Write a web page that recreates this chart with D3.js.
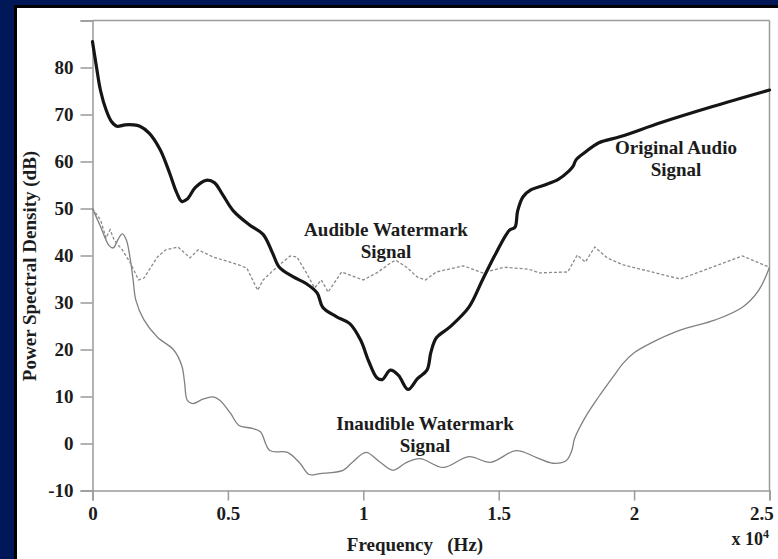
<!DOCTYPE html>
<html>
<head>
<meta charset="utf-8">
<script src="https://cdn.jsdelivr.net/npm/d3@7"></script>
<style>
  html, body { margin: 0; padding: 0; background: #001858; }
  svg { display: block; }
  text { font-family: "Liberation Serif", "Times New Roman", serif; font-weight: bold; fill: #1c1c1c; }
</style>
</head>
<body>
<svg id="chart" width="778" height="559"></svg>
<script>
// Frequency in units of 10^4 Hz, PSD in dB
const originalFreq = [0,0.015,0.03,0.05,0.07,0.09,0.12,0.15,0.175,0.21,0.25,0.285,0.31,0.33,0.35,0.38,0.42,0.45,0.48,0.52,0.58,0.63,0.665,0.69,0.74,0.79,0.83,0.85,0.9,0.95,0.99,1.02,1.05,1.07,1.1,1.13,1.165,1.2,1.235,1.25,1.27,1.32,1.39,1.44,1.49,1.54,1.56,1.57,1.59,1.62,1.67,1.72,1.76,1.775,1.785,1.82,1.87,1.95,2.1,2.29,2.5];
const originalPSD  = [85.5,80,75,71,68.5,67.5,67.8,67.8,67.5,66,62.5,57.5,53.5,51.5,52,54.5,56,55.5,53,49.5,46.5,44.5,40.5,37.5,35.5,34,32,29,27,25.5,22,17.5,14,13.6,15.6,14.5,11.5,13.8,15.6,19.5,22.5,24.8,29,34.8,40.5,45.4,46,49.5,52.5,54,55,56.2,58,59,60.3,62,64,65.3,68.3,71.7,75.2];

const audibleFreq = [0,0.03,0.05,0.065,0.08,0.11,0.14,0.17,0.19,0.24,0.27,0.316,0.36,0.39,0.445,0.54,0.57,0.61,0.63,0.68,0.73,0.755,0.79,0.82,0.845,0.87,0.92,1.0,1.05,1.1,1.12,1.16,1.2,1.23,1.27,1.37,1.44,1.52,1.61,1.65,1.755,1.79,1.82,1.855,1.9,1.96,2.17,2.4,2.5];
const audiblePSD  = [50,47.5,43.7,45.5,43.3,41.2,38.4,34.8,35.2,39.7,41.2,41.8,39.5,41.2,39.7,38,37.3,32.6,34.8,37.5,39.9,39.7,36.3,33.1,34.8,32.2,36.5,34.8,36.3,38.4,39,37.5,35.4,34.8,36.5,37.8,36.3,37.5,37.1,36.3,36.5,40.1,38.6,41.8,39.5,38,35,39.9,37.5];

const inaudibleFreq = [0,0.03,0.06,0.076,0.095,0.11,0.125,0.14,0.15,0.16,0.19,0.24,0.3,0.33,0.34,0.35,0.37,0.41,0.445,0.47,0.51,0.54,0.59,0.62,0.655,0.72,0.766,0.8,0.84,0.925,0.96,1.01,1.06,1.11,1.16,1.21,1.295,1.39,1.47,1.565,1.64,1.7,1.75,1.77,1.78,1.82,1.87,1.92,1.96,2.0,2.06,2.17,2.3,2.4,2.46,2.5];
const inaudiblePSD  = [50,46.1,42.2,41.6,43.5,44.6,43.3,39,34.8,30.5,26.3,22.6,19.9,16.5,13,9.2,8.5,9.5,9.9,9.2,6.4,3.9,3.2,2.5,-1.5,-1.9,-4.2,-6.6,-6.4,-5.7,-4,-1.9,-3.9,-5.7,-4,-3.2,-5.1,-2.8,-4,-1.5,-3,-4.2,-3.6,-1.5,1,5.6,10,14,17.1,19.3,21.3,24.1,26.3,29,32.6,37.5];

const xTicks = [0, 0.5, 1, 1.5, 2, 2.5];
const xTickLabels = ["0", "0.5", "1", "1.5", "2", "2.5"];
const yTicks = [-10, 0, 10, 20, 30, 40, 50, 60, 70, 80, 90];
const yTickLabels = ["-10", "0", "10", "20", "30", "40", "50", "60", "70", "80", ""];

const svg = d3.select("#chart");

// background panels
svg.append("rect").attr("x", 0).attr("y", 0).attr("width", 778).attr("height", 559).attr("fill", "#001858");
svg.append("rect").attr("x", 14).attr("y", 5).attr("width", 764).attr("height", 554).attr("fill", "#000000");
svg.append("rect").attr("x", 17).attr("y", 8).attr("width", 761).attr("height", 551).attr("fill", "#ffffff");

const x = d3.scaleLinear().domain([0, 2.5]).range([92.5, 769.5]);
const y = d3.scaleLinear().domain([-10, 90]).range([490.5, 20.5]);

const axisColor = "#9a9a9a";

// frame: top and right
svg.append("line").attr("x1", x(0)).attr("x2", x(2.5)).attr("y1", y(90)).attr("y2", y(90))
  .attr("stroke", axisColor).attr("stroke-width", 1.5);
svg.append("line").attr("x1", x(2.5)).attr("x2", x(2.5)).attr("y1", y(90)).attr("y2", y(-10))
  .attr("stroke", axisColor).attr("stroke-width", 1.5);

// y axis
const yAxis = d3.axisLeft(y).tickValues(yTicks).tickSize(12).tickPadding(7)
  .tickFormat((d, i) => yTickLabels[i]);
const gy = svg.append("g").attr("transform", `translate(${x(0)},0)`).call(yAxis);
gy.select(".domain").attr("stroke", axisColor).attr("stroke-width", 1.5);
gy.selectAll(".tick line").attr("stroke", axisColor).attr("stroke-width", 1.5);
gy.selectAll(".tick text").attr("font-family", "Liberation Serif, serif").attr("font-weight", "bold")
  .attr("font-size", 19).attr("fill", "#1c1c1c");

// x axis
const xAxis = d3.axisBottom(x).tickValues(xTicks).tickSize(10).tickPadding(6)
  .tickFormat((d, i) => xTickLabels[i]);
const gx = svg.append("g").attr("transform", `translate(0,${y(-10)})`).call(xAxis);
gx.select(".domain").attr("stroke", axisColor).attr("stroke-width", 1.5);
gx.selectAll(".tick line").attr("stroke", axisColor).attr("stroke-width", 1.5);
gx.selectAll(".tick text").attr("font-family", "Liberation Serif, serif").attr("font-weight", "bold")
  .attr("font-size", 19).attr("fill", "#1c1c1c");
gx.selectAll(".tick text").filter(d => d === 2.5).attr("text-anchor", "end").attr("dx", "0.2em");

// lines
const zip = (xs, ys) => xs.map((v, i) => ({ f: v, p: ys[i] }));
const smooth = d3.line().x(d => x(d.f)).y(d => y(d.p)).curve(d3.curveCatmullRom.alpha(0.5));
const straight = d3.line().x(d => x(d.f)).y(d => y(d.p)).curve(d3.curveLinear);

svg.append("path").datum(zip(inaudibleFreq, inaudiblePSD)).attr("d", smooth)
  .attr("fill", "none").attr("stroke", "#808080").attr("stroke-width", 1.3);
svg.append("path").datum(zip(audibleFreq, audiblePSD)).attr("d", straight)
  .attr("fill", "none").attr("stroke", "#8a8a8a").attr("stroke-width", 1.3).attr("stroke-dasharray", "3,2");
svg.append("path").datum(zip(originalFreq, originalPSD)).attr("d", smooth)
  .attr("fill", "none").attr("stroke", "#151515").attr("stroke-width", 3.2)
  .attr("stroke-linejoin", "round").attr("stroke-linecap", "round");

// annotations
function label(lines, cx, by, size) {
  const t = svg.append("text").attr("text-anchor", "middle").attr("font-size", size);
  lines.forEach((s, i) => t.append("tspan").attr("x", cx).attr("y", by + i * 22).text(s));
}
label(["Original Audio", "Signal"], 676, 154, 19);
label(["Audible Watermark", "Signal"], 386, 236, 19);
label(["Inaudible Watermark", "Signal"], 425, 430, 19);

// axis titles
svg.append("text").attr("text-anchor", "middle").attr("font-size", 19)
  .attr("transform", "translate(36,266) rotate(-90)").text("Power Spectral Density (dB)");
svg.append("text").attr("x", 415).attr("y", 551).attr("text-anchor", "middle").attr("font-size", 19)
  .attr("xml:space", "preserve").text("Frequency   (Hz)");
const ex = svg.append("text").attr("x", 769).attr("y", 545).attr("text-anchor", "end").attr("font-size", 18);
ex.append("tspan").text("x 10");
ex.append("tspan").attr("font-size", 12).attr("dy", "-7").text("4");
</script>
</body>
</html>
